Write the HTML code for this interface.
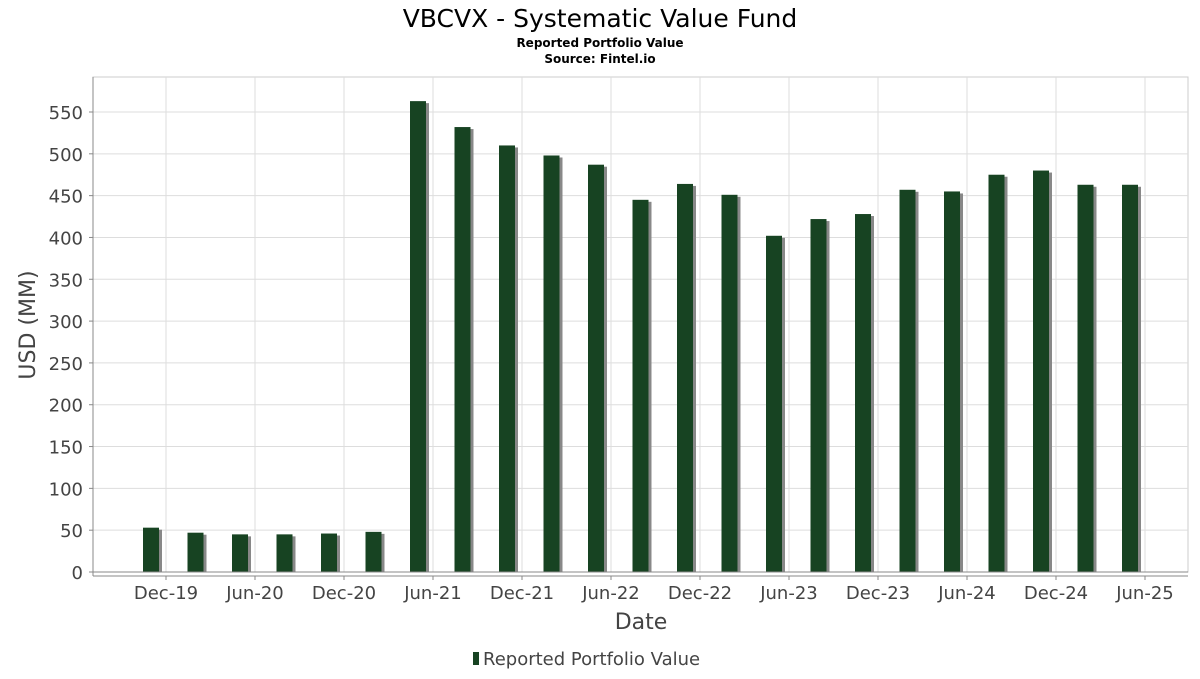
<!DOCTYPE html>
<html><head><meta charset="utf-8"><style>
body{margin:0;background:#fff;font-family:"DejaVu Sans","Liberation Sans",sans-serif;}
</style></head><body>
<svg width="1200" height="675" xmlns="http://www.w3.org/2000/svg">
<text x="600" y="27" text-anchor="middle" font-size="25" fill="#000">VBCVX - Systematic Value Fund</text>
<text x="600" y="47" text-anchor="middle" font-size="12" font-weight="bold">Reported Portfolio Value</text>
<text x="600" y="63" text-anchor="middle" font-size="12" font-weight="bold">Source: Fintel.io</text>
<g id="grid"></g>
<g id="bars"></g>
<g id="axes"></g>
<text x="35" y="325" text-anchor="middle" font-size="22" fill="#444" transform="rotate(-90 35 325)">USD (MM)</text>
<text x="641" y="629" text-anchor="middle" font-size="22" fill="#444">Date</text>
<g>
<rect x="473" y="652" width="6" height="13" fill="#174322"/>
<text x="483" y="665" font-size="18" fill="#444">Reported Portfolio Value</text>
</g>
</svg>
<script>
const values=[53,47,45,45,46,48,563,532,510,498,487,445,464,451,402,422,428,457,455,475,480,463,463];
const yTicks=[0,50,100,150,200,250,300,350,400,450,500,550];
const xLabels=["Dec-19","Jun-20","Dec-20","Jun-21","Dec-21","Jun-22","Dec-22","Jun-23","Dec-23","Jun-24","Dec-24","Jun-25"];
const NS="http://www.w3.org/2000/svg";
const L=93,R=1188,T=77,B=572;
const y=v=>B-v*(460/550);
const x=i=>151+i*44.5;
function mk(t,a,p){const e=document.createElementNS(NS,t);for(const k in a)e.setAttribute(k,a[k]);p.appendChild(e);return e;}
const g=document.getElementById('grid'),bg=document.getElementById('bars'),ax=document.getElementById('axes');
mk('rect',{x:L,y:T,width:R-L,height:B-T,fill:'#fff',stroke:'#ccc'},g);
yTicks.forEach(v=>{
 const l=mk('line',{x1:L,x2:R,y1:y(v),y2:y(v),stroke:'#ddd'},g);
 
 
 const t=mk('text',{x:83,y:y(v)+7,'text-anchor':'end','font-size':18,fill:'#444'},ax);
 t.textContent=v;
 
 
 mk('line',{x1:L-4,x2:L,y1:y(v),y2:y(v),stroke:'#888'},ax);
});
xLabels.forEach((s,k)=>{
 const px=x(0.337+2*k);
 const l=mk('line',{x1:px,x2:px,y1:T,y2:B,stroke:'#ddd'},g);
 
 
 mk('line',{x1:px,x2:px,y1:576,y2:580,stroke:'#888'},ax);
 const t=mk('text',{x:px,y:599,'text-anchor':'middle','font-size':18,fill:'#444'},ax);
 t.textContent=s;
 
 
});
values.forEach((v,i)=>{
 mk('rect',{x:x(i)-8+3,y:y(v)+2,width:16,height:B-y(v)-2,fill:'#888'},bg);
 const r=mk('rect',{x:x(i)-8,y:y(v),width:16,height:B-y(v),fill:'#174322'},bg);
 
 
});
mk('line',{x1:L,x2:L,y1:T,y2:576,stroke:'#888'},ax);
mk('line',{x1:L,x2:R,y1:576,y2:576,stroke:'#888'},ax);
mk('line',{x1:L,x2:R,y1:B,y2:B,stroke:'#888'},ax);
</script>
</body></html>
